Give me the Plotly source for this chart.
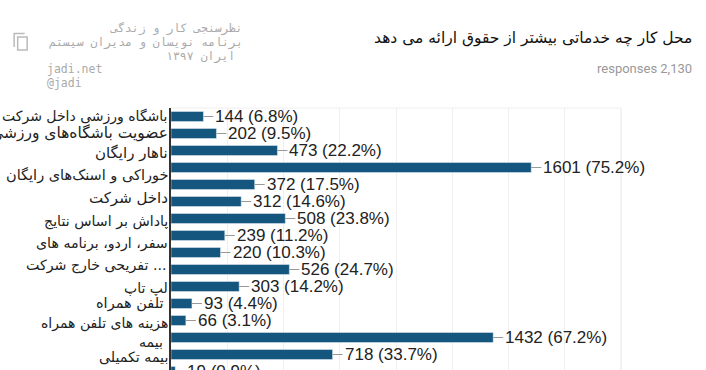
import plotly.graph_objects as go

categories = [
    "باشگاه ورزشی داخل شرکت", "عضویت باشگاه‌های ورزشی", "ناهار رایگان",
    "خوراکی و اسنک‌های رایگان", "", "داخل شرکت", "پاداش بر اساس نتایج",
    "سفر، اردو، برنامه های", "", "تفریحی خارج شرکت ...", "لپ تاپ",
    "تلفن همراه", "هزینه های تلفن همراه", "بیمه", "بیمه تکمیلی", "",
]
values = [144, 202, 473, 1601, 372, 312, 508, 239, 220, 526, 303, 93, 66, 1432, 718, 19]
percents = ["6.8", "9.5", "22.2", "75.2", "17.5", "14.6", "23.8", "11.2", "10.3", "24.7",
            "14.2", "4.4", "3.1", "67.2", "33.7", "0.9"]
title = "محل کار چه خدماتی بیشتر از حقوق ارائه می دهد"
responses = "responses 2,130"
note_fa = ["نظرسنجی کار و زندگی", "برنامه نویسان و مدیران سیستم", "ایران ۱۳۹۷"]
note_en = ["jadi.net", "@jadi"]
BAR = "#14567d"
FA = "DejaVu Sans, Liberation Sans"

W, H = 706, 410
fig = go.Figure(go.Bar(x=values, y=list(range(len(values))), orientation="h",
                       marker_color=BAR, width=10/17, cliponaxis=False))

for i, (v, p) in enumerate(zip(values, percents)):
    fig.add_annotation(x=v, y=i, xref="x", yref="y", text=f"{v} ({p}%)", showarrow=True,
                       ax=10, ay=0, axref="pixel", ayref="pixel", arrowhead=0, arrowwidth=1,
                       arrowcolor="#999", xanchor="left", yanchor="middle", standoff=0,
                       font=dict(family="Liberation Sans", size=17, color="#222"))

# vertical nudge of each wrapped label relative to its bar, right inset and size
label_up = [1, 1, -1, -7, 0, 5, -2, -7, 0, 5, -1, 1, -2, -3, -1, 0]
label_in = [1, 1, 1, 1, 1, 1, 1, 1, 1, 3, 1, 6, 1, 6, 1, 1]
label_size = [14, 15.5, 15, 14.5, 14.5, 15, 14.2, 14.2, 14.5, 14.2, 14, 14.5, 14, 14.2, 14.2, 14.5]
for i, t in enumerate(categories):
    if t:
        fig.add_annotation(x=0, y=i, xref="paper", yref="y", text=t, showarrow=False, xanchor="right",
                           xshift=-label_in[i], yshift=label_up[i] - 1,
                           font=dict(family=FA, size=label_size[i], color="#222"))

def px(v):
    return (v - 170.5) / 450.5

def py(v):
    return (H - v) / (H - 108)

def note(t, x, y, anchor):
    fig.add_annotation(x=x, y=y, xref="paper", yref="paper", xanchor=anchor, yanchor="middle",
                       text=t, showarrow=False,
                       font=dict(family="DejaVu Sans Mono", size=11.5, color="#aaa"))

for t, ya, xa in zip(note_fa, [28, 42, 56], [245, 245, 237]):
    note(t, px(xa), py(ya), "right")
for t, ya in zip(note_en, [69, 83]):
    note(t, px(44.5), py(ya), "left")

fig.add_annotation(x=px(694), y=py(38), xref="paper", yref="paper", xanchor="right", yanchor="middle",
                   text=title, showarrow=False, font=dict(family=FA, size=15.5, color="#111"))
fig.add_annotation(x=px(694), y=py(69), xref="paper", yref="paper", xanchor="right", yanchor="middle",
                   text=responses, showarrow=False, font=dict(family="Roboto", size=13, color="#999"))

# copy icon
fig.add_shape(type="rect", xref="paper", yref="paper", x0=px(17), x1=px(26.5), y0=py(37), y1=py(50),
              line=dict(color="#bbb", width=1.5), fillcolor="rgba(0,0,0,0)")
fig.add_shape(type="path", xref="paper", yref="paper",
              path=f"M {px(24)} {py(33.5)} L {px(13.5)} {py(33.5)} L {px(13.5)} {py(47)}",
              line=dict(color="#bbb", width=1.5))
# top and right borders
fig.add_shape(type="line", xref="paper", yref="paper", x0=0, x1=1, y0=1, y1=1, line=dict(color="#eee", width=1))
fig.add_shape(type="line", xref="paper", yref="paper", x0=1, x1=1, y0=0, y1=1, line=dict(color="#eee", width=1.5))

fig.update_layout(width=W, height=H, margin=dict(l=170.5, r=85, t=108, b=0, pad=0),
                  paper_bgcolor="white", plot_bgcolor="white", showlegend=False,
                  xaxis=dict(range=[0, 2000], dtick=250, showticklabels=False, gridcolor="#efefef",
                             gridwidth=1, zeroline=False, showline=False, fixedrange=True),
                  yaxis=dict(range=[(H - 108) / 17 - 0.5, -0.5], showticklabels=False, showgrid=False, zeroline=False,
                             showline=True, linecolor="#333", linewidth=1.5, fixedrange=True))
fig.write_html("out.html", config={"displayModeBar": False},
               post_script="document.body.style.margin='0';document.documentElement.style.overflow='hidden';")
